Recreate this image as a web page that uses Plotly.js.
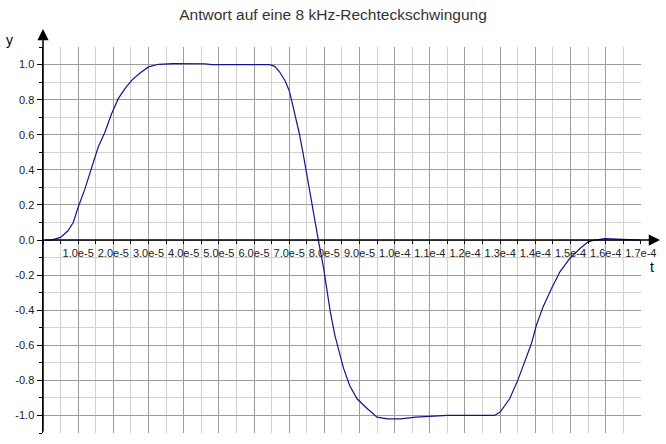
<!DOCTYPE html>
<html>
<head>
<meta charset="utf-8">
<script src="https://cdn.plot.ly/plotly-3.0.1.min.js"></script>
<style>html,body{margin:0;padding:0;background:#fff;}#chart{width:666px;height:444px;}</style>
</head>
<body>
<div id="chart"></div>
<script>
// time values (s)
var tValues = [0, 0.24e-5, 0.5e-5, 0.71e-5, 0.86e-5, 1.0e-5, 1.19e-5, 1.38e-5, 1.57e-5, 1.76e-5,
  1.95e-5, 2.14e-5, 2.33e-5, 2.52e-5, 2.76e-5, 3.0e-5, 3.29e-5, 3.7e-5, 4.2e-5, 4.6e-5,
  4.8e-5, 5.5e-5, 6.3e-5, 6.45e-5, 6.59e-5, 6.73e-5, 6.88e-5, 7.0e-5, 7.07e-5, 7.16e-5,
  7.29e-5, 7.4e-5, 7.51e-5, 7.64e-5, 7.83e-5, 7.98e-5, 8.06e-5, 8.17e-5, 8.3e-5, 8.44e-5,
  8.55e-5, 8.72e-5, 8.93e-5, 9.17e-5, 9.5e-5, 9.79e-5, 10.17e-5, 10.6e-5, 11.0e-5, 11.5e-5,
  12.0e-5, 12.84e-5, 13.0e-5, 13.27e-5, 13.5e-5, 13.7e-5, 13.89e-5, 14.03e-5, 14.22e-5, 14.46e-5,
  14.7e-5, 14.98e-5, 15.27e-5, 15.5e-5, 15.7e-5, 15.98e-5, 16.31e-5, 16.6e-5, 17.0e-5];
// response values
var yValues = [0, 0, 0.015, 0.053, 0.10, 0.187, 0.29, 0.405, 0.53, 0.615,
  0.72, 0.806, 0.863, 0.91, 0.952, 0.987, 1.002, 1.006, 1.006, 1.005,
  1.0, 1.0, 1.0, 1.0, 0.99, 0.958, 0.91, 0.853, 0.796, 0.72,
  0.606, 0.49, 0.358, 0.206, 0.0, -0.162, -0.276, -0.41, -0.543, -0.657,
  -0.733, -0.829, -0.905, -0.952, -1.01, -1.019, -1.019, -1.01, -1.005, -1.0,
  -1.0, -1.0, -0.981, -0.905, -0.8, -0.695, -0.59, -0.486, -0.381, -0.276,
  -0.181, -0.105, -0.048, -0.01, 0, 0.008, 0.006, 0, 0];

var xTickVals = [1e-5, 2e-5, 3e-5, 4e-5, 5e-5, 6e-5, 7e-5, 8e-5, 9e-5, 1.0e-4, 1.1e-4, 1.2e-4, 1.3e-4, 1.4e-4, 1.5e-4, 1.6e-4, 1.7e-4];
var xTickText = ["1.0e-5", "2.0e-5", "3.0e-5", "4.0e-5", "5.0e-5", "6.0e-5", "7.0e-5", "8.0e-5", "9.0e-5", "1.0e-4", "1.1e-4", "1.2e-4", "1.3e-4", "1.4e-4", "1.5e-4", "1.6e-4", "1.7e-4"];
var yTickVals = [-1.0, -0.8, -0.6, -0.4, -0.2, 0.0, 0.2, 0.4, 0.6, 0.8, 1.0];
var yTickText = ["-1.0", "-0.8", "-0.6", "-0.4", "-0.2", "0.0", "0.2", "0.4", "0.6", "0.8", "1.0"];

var titleText = "Antwort auf eine 8 kHz-Rechteckschwingung";
var xLabel = "t";
var yLabel = "y";

var font = "Liberation Sans, Arial, sans-serif";

var trace = {
  x: tValues, y: yValues, type: "scatter", mode: "lines",
  line: {color: "#14148c", width: 1.2, shape: "linear"},
  hoverinfo: "skip"
};

var layout = {
  width: 666, height: 444,
  margin: {l: 43, r: 25, t: 47, b: 11, pad: 0},
  paper_bgcolor: "#ffffff", plot_bgcolor: "#ffffff",
  showlegend: false,
  title: {text: titleText, font: {family: font, size: 15.5, color: "#333333"},
          x: 0.5, xref: "container", xanchor: "center", y: 1 - 15 / 444, yref: "container", yanchor: "middle"},
  xaxis: {
    range: [0, 1.7005e-4], anchor: "free", position: 0.5,
    tickmode: "array", tickvals: xTickVals, ticktext: xTickText,
    showgrid: true, gridcolor: "#9c9c9c", gridwidth: 1,
    zeroline: false, showline: false,
    ticks: "outside", ticklen: 3, tickcolor: "#000", tickwidth: 1,
    tickfont: {family: font, size: 11, color: "#222"},
    minor: {tick0: 0, dtick: 5e-6, showgrid: true, gridcolor: "#d2d2d2", gridwidth: 1, ticks: "outside", ticklen: 3, tickcolor: "#000"},
    fixedrange: true
  },
  yaxis: {
    range: [-1.1, 1.1005],
    tickmode: "array", tickvals: yTickVals, ticktext: yTickText,
    showgrid: true, gridcolor: "#9c9c9c", gridwidth: 1,
    zeroline: false, showline: true, linecolor: "#000", linewidth: 1.5,
    ticks: "outside", ticklen: 5, tickcolor: "#000", tickwidth: 1,
    tickfont: {family: font, size: 11, color: "#222"},
    minor: {tick0: 0, dtick: 0.1, showgrid: true, gridcolor: "#d2d2d2", gridwidth: 1, ticks: "outside", ticklen: 3, tickcolor: "#000"},
    fixedrange: true
  },
  annotations: [
    {xref: "paper", yref: "paper", x: 1.0318, y: 0.5, axref: "pixel", ayref: "pixel", ax: -617, ay: 0,
     text: "", showarrow: true, arrowhead: 2, arrowsize: 1.5, arrowwidth: 1.5, arrowcolor: "#000"},
    {xref: "paper", yref: "paper", x: 0, y: 1.0466, axref: "pixel", ayref: "pixel", ax: 0, ay: 404,
     text: "", showarrow: true, arrowhead: 2, arrowsize: 1.5, arrowwidth: 1.5, arrowcolor: "#000"},
    {xref: "paper", yref: "paper", x: -0.0552, y: 1.018, text: yLabel, showarrow: false,
     xanchor: "center", yanchor: "middle", font: {family: font, size: 14, color: "#000"}},
    {xref: "paper", yref: "paper", x: 1.0184, y: 0.43, text: xLabel, showarrow: false,
     xanchor: "center", yanchor: "middle", font: {family: font, size: 14, color: "#000"}}
  ]
};

Plotly.newPlot("chart", [trace], layout, {displayModeBar: false, staticPlot: true});
</script>
</body>
</html>
